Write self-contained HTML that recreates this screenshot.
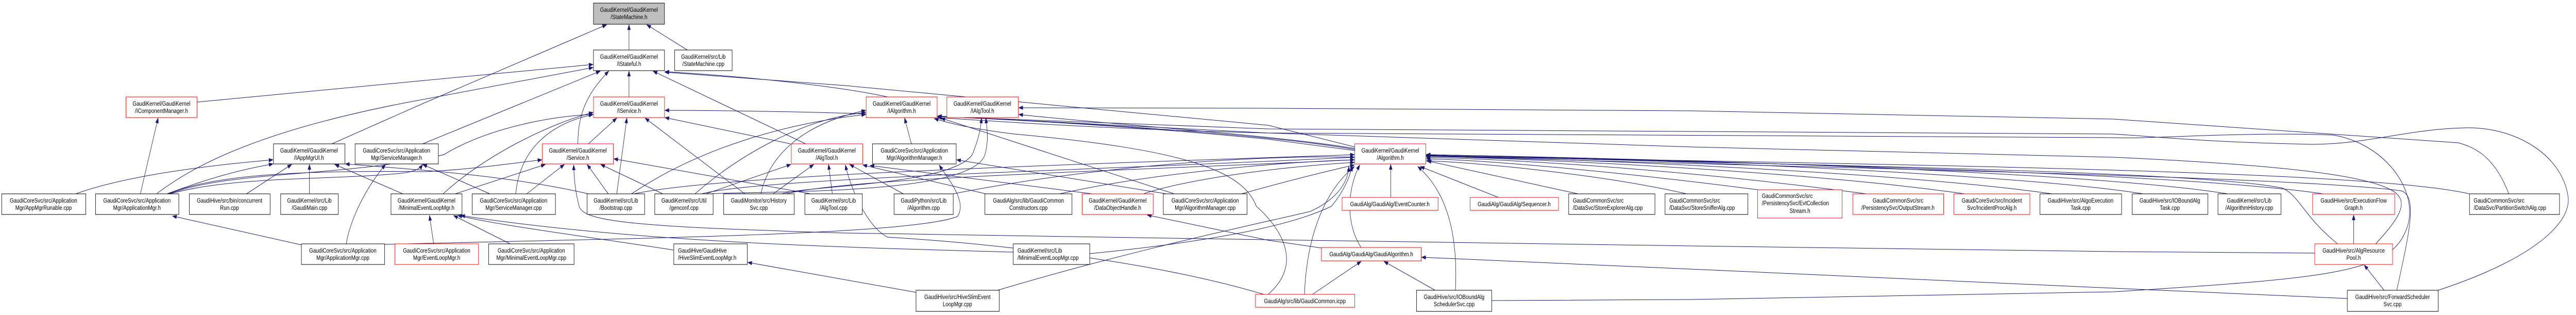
<!DOCTYPE html>
<html><head><meta charset="utf-8"><style>
html,body{margin:0;padding:0;background:#fff;width:100%;height:100%;overflow:hidden;}
svg{display:block;width:100vw;height:100vh;}
text{font-family:"Liberation Sans",Arial,sans-serif;font-size:12px;fill:#000;}
.n{fill:#fff;stroke:#000;stroke-width:1;}
.r{fill:#fff;stroke:#ff0000;stroke-width:1;}
.g{fill:#bfbfbf;stroke:#000;stroke-width:1;}
.e{fill:none;stroke:#191970;stroke-width:1;marker-end:url(#a);}
</style></head><body>
<svg viewBox="0 0 6094 611" preserveAspectRatio="none" xmlns="http://www.w3.org/2000/svg">
<defs><marker id="a" markerWidth="11" markerHeight="8" refX="10" refY="4" orient="auto" markerUnits="userSpaceOnUse"><path d="M0,0 L11,4 L0,8 z" fill="#191970"/></marker></defs>
<g>
<path class="e" d="M1488,97 L1488,48"/>
<path class="e" d="M1626,97 L1530,48"/>
<path class="e" d="M466,198 L1403,125"/>
<path class="e" d="M785,279 L1000,201 L1435,48"/>
<path class="e" d="M370,376 C460,320 620,250 1000,193 L1403,131"/>
<path class="e" d="M332,376 L374,229"/>
<path class="e" d="M179,376 C300,340 500,320 646,310"/>
<path class="e" d="M395,376 C480,350 560,330 646,318"/>
<path class="e" d="M583,376 L690,319"/>
<path class="e" d="M732,376 L732,319"/>
<path class="e" d="M953,376 L792,319"/>
<path class="e" d="M1392,376 C1200,340 1000,330 817,318"/>
<path class="e" d="M398,376 C500,340 700,330 1000,333 C1100,330 1200,318 1282,310"/>
<path class="e" d="M400,376 C550,330 800,345 1050,300 C1150,250 1300,225 1403,222"/>
<path class="e" d="M402,376 C560,340 800,350 960,335 C990,330 995,325 1000,319"/>
<path class="e" d="M819,473 C830,420 870,360 912,319"/>
<path class="e" d="M713,475 L408,419"/>
<path class="e" d="M910,474 C1500,462 2150,456 2265,420 C2290,390 2240,345 2222,320"/>
<path class="e" d="M1000,279 L1420,138"/>
<path class="e" d="M1488,188 L1488,138"/>
<path class="e" d="M1367,279 C1367,220 1390,180 1440,138"/>
<path class="e" d="M1392,279 L1459,229"/>
<path class="e" d="M1246,376 L1335,319"/>
<path class="e" d="M1220,376 C1230,290 1300,240 1403,222"/>
<path class="e" d="M1159,376 L1000,319"/>
<path class="e" d="M1077,376 L1290,319"/>
<path class="e" d="M1048,376 C1150,300 1300,240 1403,218"/>
<path class="e" d="M1439,376 L1389,319"/>
<path class="e" d="M1459,376 L1483,229"/>
<path class="e" d="M1494,376 C1650,290 1850,240 2048,222"/>
<path class="e" d="M1568,376 L1421,319"/>
<path class="e" d="M1644,376 C1750,300 1900,230 2048,218"/>
<path class="e" d="M1670,376 L1871,319"/>
<path class="e" d="M1762,376 L1526,229"/>
<path class="e" d="M1800,376 C1820,300 1900,240 2048,214"/>
<path class="e" d="M1829,376 L1925,319"/>
<path class="e" d="M1870,279 L1573,228"/>
<path class="e" d="M1906,279 L1545,138"/>
<path class="e" d="M1969,376 L1960,319"/>
<path class="e" d="M1918,376 L1452,308"/>
<path class="e" d="M1026,473 L1016,418"/>
<path class="e" d="M1207,473 L1073,418"/>
<path class="e" d="M1593,485 C1400,460 1200,440 1083,418"/>
<path class="e" d="M2397,489 C2000,480 1500,470 1090,418"/>
<path class="e" d="M2167,567 L1769,509"/>
<path class="e" d="M2156,279 L2140,229"/>
<path class="e" d="M2759,376 L2263,310"/>
<path class="e" d="M2778,376 L2226,229"/>
<path class="e" d="M2937,376 C3050,350 3150,330 3204,320"/>
<path class="e" d="M2137,376 L2010,319"/>
<path class="e" d="M2255,376 C2600,320 3000,300 3204,305"/>
<path class="e" d="M2332,376 L2041,320"/>
<path class="e" d="M2507,376 C2700,340 3000,315 3204,310"/>
<path class="e" d="M2584,376 L2058,321"/>
<path class="e" d="M2705,376 C2800,350 3000,325 3204,315"/>
<path class="e" d="M3126,481 L3000,466 L2714,417"/>
<path class="e" d="M5476,491 L5000,488 L4000,477 L3000,465 L2000,452 C1500,440 1380,430 1370,400 C1360,370 1358,340 1357,320"/>
<path class="e" d="M2990,571 C2700,500 2300,470 2100,460 C2050,440 2010,360 2000,320"/>
<path class="e" d="M3000,571 C3100,500 3000,420 2972,400 C2940,330 2800,290 2400,260 C2300,250 2250,240 2210,230"/>
<path class="e" d="M2360,563 C2700,480 3000,430 3100,410 C3180,380 3190,340 3191,323"/>
<path class="e" d="M2578,492 C2850,470 3050,440 3150,400 C3180,370 3195,340 3198,322"/>
<path class="e" d="M3290,383 L3290,319"/>
<path class="e" d="M3545,383 L3360,323"/>
<path class="e" d="M3733,376 L3376,312"/>
<path class="e" d="M3220,480 C3180,430 3190,360 3217,320"/>
<path class="e" d="M3086,571 C3090,480 3120,380 3204,323"/>
<path class="e" d="M3105,571 L3220,507"/>
<path class="e" d="M3395,563 L3274,507"/>
<path class="e" d="M3443,563 C3450,450 3420,370 3354,323"/>
<path class="e" d="M5553,579 L5000,559 L4000,522 L3363,499"/>
<path class="e" d="M3529,583 L4000,581 L5000,566 C5500,540 5650,530 5690,450 C5730,380 5650,280 5520,262 C5300,255 5100,270 5000,267 L3000,258 C2600,250 2350,235 2218,228"/>
<path class="e" d="M5935,376 C5900,300 5850,285 5816,277 L5000,231 L4000,215 L3000,210 L2410,209"/>
<path class="e" d="M3990,376 C3800,340 3500,315 3374,312"/>
<path class="e" d="M4158,368 C3800,330 3500,310 3374,308"/>
<path class="e" d="M4415,376 C4000,330 3600,310 3374,305"/>
<path class="e" d="M4648,376 C4300,335 3700,310 3374,303"/>
<path class="e" d="M4855,376 C4500,335 3800,310 3374,302"/>
<path class="e" d="M5070,376 C4800,340 4000,310 3374,300"/>
<path class="e" d="M5270,376 C5000,340 4200,312 3374,300"/>
<path class="e" d="M5496,376 C5200,340 4400,320 3374,300"/>
<path class="e" d="M5842,376 C5600,330 4500,320 3374,302"/>
<path class="e" d="M5530,473 C5450,420 5440,380 5400,365 C5200,330 4200,320 3374,301"/>
<path class="e" d="M5670,563 C5700,450 5720,380 5680,370 C5400,340 4200,325 3374,302"/>
<path class="e" d="M5568,473 L5568,417"/>
<path class="e" d="M5640,563 L5593,514"/>
<path class="e" d="M5620,473 C5680,420 5700,390 5660,370 C5600,340 5400,320 5000,305 L4000,285 L3000,258 L2218,225"/>
<path class="e" d="M5768,563 C6000,500 6085,430 6075,380 C6060,300 5950,245 5830,248 C5700,250 5600,280 5470,280 C5200,275 5100,265 5000,260 L3000,250 L2218,226"/>
<path class="e" d="M3205,290 C3000,260 2500,235 2218,226"/>
<path class="e" d="M3205,285 L3000,243 L2000,166 L1573,140"/>
<path class="e" d="M3205,292 L3000,270 C2500,230 2000,215 1573,214"/>
<path class="e" d="M3205,288 C3000,260 2600,240 2410,222"/>
<path class="e" d="M2100,188 C2000,170 1800,150 1573,139"/>
<path class="e" d="M1850,376 C1900,360 2250,360 2300,300 C2315,270 2320,250 2322,229"/>
<path class="e" d="M1680,376 C1800,370 2300,380 2330,300 C2340,270 2335,250 2332,229"/>
<path class="e" d="M1500,376 C1700,340 2500,320 3204,300"/>
<path class="e" d="M1660,376 C1800,345 2600,330 3204,305"/>
<path class="e" d="M1860,376 C2000,345 2700,330 3204,310"/>
</g>
<g text-anchor="middle">
<rect class="g" x="1404" y="6" width="168" height="41"/><text x="1488" y="23">GaudiKernel/GaudiKernel</text><text x="1488" y="37">/StateMachine.h</text>
<rect class="n" x="1404" y="97" width="168" height="40"/><text x="1488" y="114">GaudiKernel/GaudiKernel</text><text x="1488" y="128">/IStateful.h</text>
<rect class="n" x="1596" y="97" width="136" height="40"/><text x="1664" y="114">GaudiKernel/src/Lib</text><text x="1664" y="128">/StateMachine.cpp</text>
<rect class="r" x="298" y="188" width="168" height="40"/><text x="382" y="205">GaudiKernel/GaudiKernel</text><text x="382" y="219">/IComponentManager.h</text>
<rect class="r" x="1404" y="188" width="168" height="40"/><text x="1488" y="205">GaudiKernel/GaudiKernel</text><text x="1488" y="219">/IService.h</text>
<rect class="r" x="2049" y="188" width="168" height="40"/><text x="2133" y="205">GaudiKernel/GaudiKernel</text><text x="2133" y="219">/IAlgorithm.h</text>
<rect class="r" x="2240" y="188" width="169" height="40"/><text x="2324" y="205">GaudiKernel/GaudiKernel</text><text x="2324" y="219">/IAlgTool.h</text>
<rect class="n" x="647" y="279" width="169" height="39"/><text x="731" y="296">GaudiKernel/GaudiKernel</text><text x="731" y="310">/IAppMgrUI.h</text>
<rect class="n" x="840" y="279" width="197" height="39"/><text x="938" y="296">GaudiCoreSvc/src/Application</text><text x="938" y="310">Mgr/ServiceManager.h</text>
<rect class="r" x="1283" y="279" width="168" height="39"/><text x="1367" y="296">GaudiKernel/GaudiKernel</text><text x="1367" y="310">/Service.h</text>
<rect class="r" x="1872" y="279" width="169" height="39"/><text x="1956" y="296">GaudiKernel/GaudiKernel</text><text x="1956" y="310">/AlgTool.h</text>
<rect class="n" x="2064" y="279" width="198" height="39"/><text x="2163" y="296">GaudiCoreSvc/src/Application</text><text x="2163" y="310">Mgr/AlgorithmManager.h</text>
<rect class="r" x="3205" y="279" width="168" height="39"/><text x="3289" y="296">GaudiKernel/GaudiKernel</text><text x="3289" y="310">/Algorithm.h</text>

<rect class="n" x="4" y="376" width="199" height="40"/><text x="103" y="393">GaudiCoreSvc/src/Application</text><text x="103" y="407">Mgr/AppMgrRunable.cpp</text>
<rect class="n" x="226" y="376" width="197" height="40"/><text x="324" y="393">GaudiCoreSvc/src/Application</text><text x="324" y="407">Mgr/ApplicationMgr.h</text>
<rect class="n" x="448" y="376" width="191" height="40"/><text x="543" y="393">GaudiHive/src/bin/concurrent</text><text x="543" y="407">Run.cpp</text>
<rect class="n" x="664" y="376" width="136" height="40"/><text x="732" y="393">GaudiKernel/src/Lib</text><text x="732" y="407">/GaudiMain.cpp</text>
<rect class="n" x="925" y="376" width="168" height="40"/><text x="1009" y="393">GaudiKernel/GaudiKernel</text><text x="1009" y="407">/MinimalEventLoopMgr.h</text>
<rect class="n" x="1117" y="376" width="197" height="40"/><text x="1215" y="393">GaudiCoreSvc/src/Application</text><text x="1215" y="407">Mgr/ServiceManager.cpp</text>
<rect class="n" x="1389" y="376" width="136" height="40"/><text x="1457" y="393">GaudiKernel/src/Lib</text><text x="1457" y="407">/Bootstrap.cpp</text>
<rect class="n" x="1549" y="376" width="138" height="40"/><text x="1618" y="393">GaudiKernel/src/Util</text><text x="1618" y="407">/genconf.cpp</text>
<rect class="n" x="1712" y="376" width="167" height="40"/><text x="1795" y="393">GaudiMonitor/src/History</text><text x="1795" y="407">Svc.cpp</text>
<rect class="n" x="1904" y="376" width="136" height="40"/><text x="1972" y="393">GaudiKernel/src/Lib</text><text x="1972" y="407">/AlgTool.cpp</text>
<rect class="n" x="2115" y="376" width="140" height="40"/><text x="2185" y="393">GaudiPython/src/Lib</text><text x="2185" y="407">/Algorithm.cpp</text>
<rect class="n" x="2330" y="376" width="206" height="40"/><text x="2433" y="393">GaudiAlg/src/lib/GaudiCommon</text><text x="2433" y="407">Constructors.cpp</text>
<rect class="r" x="2560" y="376" width="168" height="40"/><text x="2644" y="393">GaudiKernel/GaudiKernel</text><text x="2644" y="407">/DataObjectHandle.h</text>
<rect class="n" x="2752" y="376" width="198" height="40"/><text x="2851" y="393">GaudiCoreSvc/src/Application</text><text x="2851" y="407">Mgr/AlgorithmManager.cpp</text>
<rect class="r" x="3175" y="383" width="227" height="25"/><text x="3288" y="400">GaudiAlg/GaudiAlg/EventCounter.h</text>
<rect class="r" x="3478" y="383" width="209" height="25"/><text x="3582" y="400">GaudiAlg/GaudiAlg/Sequencer.h</text>
<rect class="r" x="4383" y="376" width="215" height="40"/><text x="4490" y="393">GaudiCommonSvc/src</text><text x="4490" y="407">/PersistencySvc/OutputStream.h</text>
<rect class="r" x="4622" y="376" width="180" height="40"/><text x="4712" y="393">GaudiCoreSvc/src/Incident</text><text x="4712" y="407">Svc/IncidentProcAlg.h</text>
<rect class="n" x="4826" y="376" width="193" height="40"/><text x="4922" y="393">GaudiHive/src/AlgoExecution</text><text x="4922" y="407">Task.cpp</text>
<rect class="n" x="5044" y="376" width="179" height="40"/><text x="5133" y="393">GaudiHive/src/IOBoundAlg</text><text x="5133" y="407">Task.cpp</text>
<rect class="n" x="5247" y="376" width="149" height="40"/><text x="5321" y="393">GaudiKernel/src/Lib</text><text x="5321" y="407">/AlgorithmHistory.cpp</text>
<rect class="r" x="5471" y="376" width="194" height="40"/><text x="5568" y="393">GaudiHive/src/ExecutionFlow</text><text x="5568" y="407">Graph.h</text>

<rect class="n" x="713" y="473" width="197" height="40"/><text x="811" y="490">GaudiCoreSvc/src/Application</text><text x="811" y="504">Mgr/ApplicationMgr.cpp</text>
<rect class="r" x="934" y="473" width="198" height="40"/><text x="1033" y="490">GaudiCoreSvc/src/Application</text><text x="1033" y="504">Mgr/EventLoopMgr.h</text>
<rect class="n" x="1156" y="473" width="202" height="40"/><text x="1257" y="490">GaudiCoreSvc/src/Application</text><text x="1257" y="504">Mgr/MinimalEventLoopMgr.cpp</text>
<rect class="r" x="3126" y="480" width="236" height="26"/><text x="3244" y="497">GaudiAlg/GaudiAlg/GaudiAlgorithm.h</text>
<rect class="r" x="5476" y="473" width="184" height="40"/><text x="5568" y="490">GaudiHive/src/AlgResource</text><text x="5568" y="504">Pool.h</text>

<rect class="n" x="2167" y="563" width="197" height="41"/><text x="2265" y="580">GaudiHive/src/HiveSlimEvent</text><text x="2265" y="594">LoopMgr.cpp</text>
<rect class="r" x="2970" y="571" width="235" height="25"/><text x="3087" y="588">GaudiAlg/src/lib/GaudiCommon.icpp</text>
<rect class="n" x="3351" y="563" width="178" height="41"/><text x="3440" y="580">GaudiHive/src/IOBoundAlg</text><text x="3440" y="594">SchedulerSvc.cpp</text>
<rect class="n" x="5553" y="563" width="215" height="41"/><text x="5660" y="580">GaudiHive/src/ForwardScheduler</text><text x="5660" y="594">Svc.cpp</text>
</g>
<g text-anchor="start">
<rect class="n" x="3711" y="376" width="204" height="40"/><text x="3721" y="393">GaudiCommonSvc/src</text><text x="3721" y="407">/DataSvc/StoreExplorerAlg.cpp</text>
<rect class="n" x="3939" y="376" width="196" height="40"/><text x="3949" y="393">GaudiCommonSvc/src</text><text x="3949" y="407">/DataSvc/StoreSnifferAlg.cpp</text>
<rect class="r" x="4158" y="368" width="200" height="55"/><text x="4168" y="384">GaudiCommonSvc/src</text><text x="4168" y="398">/PersistencySvc/EvtCollection</text><text x="4258" y="413" text-anchor="middle">Stream.h</text>
<rect class="n" x="5842" y="376" width="213" height="40"/><text x="5852" y="393">GaudiCommonSvc/src</text><text x="5852" y="407">/DataSvc/PartitionSwitchAlg.cpp</text>
<rect class="n" x="1594" y="473" width="174" height="40"/><text x="1604" y="490">GaudiHive/GaudiHive</text><text x="1604" y="504">/HiveSlimEventLoopMgr.h</text>
<rect class="n" x="2397" y="473" width="181" height="40"/><text x="2407" y="490">GaudiKernel/src/Lib</text><text x="2407" y="504">/MinimalEventLoopMgr.cpp</text>
</g>
</svg>
</body></html>
